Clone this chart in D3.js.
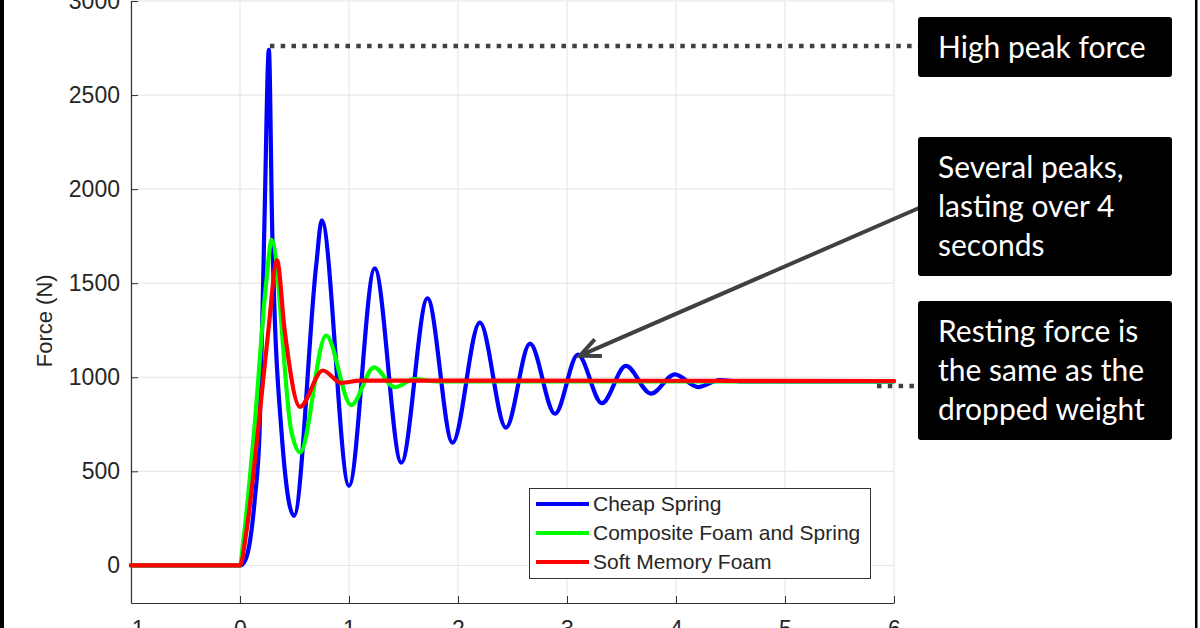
<!DOCTYPE html>
<html>
<head>
<meta charset="utf-8">
<script src="https://cdn.jsdelivr.net/npm/d3@7"></script>
<style>
  html, body { margin: 0; padding: 0; background: #fff; }
  svg { display: block; }
</style>
</head>
<body>
<svg id="chart" width="1200" height="628"></svg>
<script>
// ---- data ----
const xTicks = [-1, 0, 1, 2, 3, 4, 5, 6];
const yTicks = [0, 500, 1000, 1500, 2000, 2500, 3000];
const seriesNames = ["Cheap Spring", "Composite Foam and Spring", "Soft Memory Foam"];
const seriesColors = ["#0000ff", "#00ff00", "#ff0000"];

const cheapSpringT = [-1, 0, 0.05, 0.092, 0.137, 0.18, 0.224, 0.265, 0.295, 0.38, 0.495, 0.70, 0.75, 1.0, 1.236, 1.48, 1.72, 1.95, 2.2, 2.44, 2.66, 2.89, 3.1, 3.32, 3.54, 3.77, 3.99, 4.2, 4.4, 4.6, 6];
const cheapSpringF = [0, 0, 30, 130, 360, 716, 1818, 2740, 1800, 716, 263, 1600, 1834, 423, 1579, 546, 1419, 652, 1291, 732, 1179, 806, 1120, 862, 1060, 913, 1015, 948, 985, 978, 978];

const compositeT = [-1, 0, 0.03, 0.13, 0.24, 0.29, 0.47, 0.55, 0.79, 1.02, 1.23, 1.42, 1.6, 1.8, 6];
const compositeF = [0, 0, 130, 716, 1500, 1730, 716, 600, 1222, 852, 1053, 947, 990, 978, 978];

const memoryFoamT = [-1, 0, 0.06, 0.165, 0.26, 0.34, 0.41, 0.55, 0.76, 0.93, 1.1, 6];
const memoryFoamF = [0, 0, 184, 716, 1248, 1621, 1248, 843, 1036, 970, 982, 980];

const peakForce = 2740, peakTime = 0.265;
const restingForce = 980;
const arrowTarget = [3.1, 1120];

const annotations = [
  ["High peak force"],
  ["Several peaks,", "lasting over 4", "seconds"],
  ["Resting force is", "the same as the", "dropped weight"]
];

// ---- layout ----
const svg = d3.select("#chart");
const W = 1200, H = 628;
const x = d3.scaleLinear().domain([-1, 6]).range([131, 894]);
const y = d3.scaleLinear().domain([-200, 3000]).range([603, 1]);

// frame bars
svg.append("rect").attr("x", 0).attr("y", 0).attr("width", 4).attr("height", H).attr("fill", "#000");
svg.append("rect").attr("x", 1195).attr("y", 0).attr("width", 2.5).attr("height", H).attr("fill", "#000");

// grid
const grid = svg.append("g").attr("stroke", "#e3e3e3").attr("stroke-width", 1);
xTicks.forEach(t => grid.append("line").attr("x1", x(t)).attr("x2", x(t)).attr("y1", y(-200)).attr("y2", y(3000)));
yTicks.forEach(t => grid.append("line").attr("x1", x(-1)).attr("x2", x(6)).attr("y1", y(t)).attr("y2", y(t)));

// axes
const fontAx = "'Liberation Sans', Arial, Helvetica, sans-serif";
const yAxis = d3.axisLeft(y).tickValues(yTicks).tickSizeInner(-7).tickSizeOuter(0).tickPadding(11).tickFormat(d3.format("d"));
const gy = svg.append("g").attr("transform", `translate(${x(-1)},0)`).call(yAxis);
gy.select(".domain").attr("stroke", "#333").attr("stroke-width", 1.2);
gy.selectAll(".tick line").attr("stroke", "#333");
gy.selectAll(".tick text").attr("font-family", fontAx).attr("font-size", 23).attr("fill", "#262626");

const xAxis = d3.axisBottom(x).tickValues(xTicks).tickSizeInner(-7).tickSizeOuter(0).tickPadding(18).tickFormat(d3.format("d"));
const gx = svg.append("g").attr("transform", `translate(0,${y(-200)})`).call(xAxis);
gx.select(".domain").attr("stroke", "#333").attr("stroke-width", 1.2);
gx.selectAll(".tick line").attr("stroke", "#333");
gx.selectAll(".tick text").attr("font-family", fontAx).attr("font-size", 23).attr("fill", "#262626");

svg.append("text")
  .attr("transform", `translate(52,${y(1300)}) rotate(-90)`)
  .attr("text-anchor", "middle")
  .attr("font-family", fontAx).attr("font-size", 22).attr("fill", "#262626")
  .text("Force (N)");

// lines
const line = d3.line().x(d => x(d[0])).y(d => y(d[1])).curve(d3.curveMonotoneX);
const series = [
  d3.zip(cheapSpringT, cheapSpringF),
  d3.zip(compositeT, compositeF),
  d3.zip(memoryFoamT, memoryFoamF)
];
series.forEach((s, i) => {
  svg.append("path").datum(s).attr("d", line)
    .attr("fill", "none").attr("stroke", seriesColors[i])
    .attr("stroke-width", 4.2).attr("stroke-linejoin", "round").attr("stroke-linecap", "round");
});

// legend
const lg = svg.append("g");
lg.append("rect").attr("x", 529.5).attr("y", 488.5).attr("width", 341).attr("height", 90)
  .attr("fill", "#fff").attr("stroke", "#333").attr("stroke-width", 1);
seriesNames.forEach((n, i) => {
  const yy = 504 + i * 29;
  lg.append("line").attr("x1", 536).attr("x2", 589).attr("y1", yy).attr("y2", yy)
    .attr("stroke", seriesColors[i]).attr("stroke-width", 4.2);
  lg.append("text").attr("x", 593).attr("y", yy).attr("dy", "0.35em")
    .attr("font-family", fontAx).attr("font-size", 21).attr("fill", "#262626").text(n);
});

// annotation dotted lines
svg.append("line").attr("x1", x(peakTime) + 1).attr("x2", 918).attr("y1", y(peakForce) - 4).attr("y2", y(peakForce) - 4)
  .attr("stroke", "#404040").attr("stroke-width", 4.5).attr("stroke-dasharray", "4.5,6.3");
svg.append("line").attr("x1", 877).attr("x2", 918).attr("y1", y(restingForce) + 5).attr("y2", y(restingForce) + 5)
  .attr("stroke", "#404040").attr("stroke-width", 4.5).attr("stroke-dasharray", "4.5,6.3");

// arrow
const tip = [x(arrowTarget[0]) + 2, y(arrowTarget[1]) + 1];
const start = [919, 208];
svg.append("line").attr("x1", start[0]).attr("y1", start[1]).attr("x2", tip[0] + 3).attr("y2", tip[1] - 1.3)
  .attr("stroke", "#404040").attr("stroke-width", 4);
const ang = Math.atan2(start[1] - tip[1], start[0] - tip[0]);
const hl = 22, ha = 0.42;
const p1 = [tip[0] + hl * Math.cos(ang + ha), tip[1] + hl * Math.sin(ang + ha)];
const p2 = [tip[0] + hl * Math.cos(ang - ha), tip[1] + hl * Math.sin(ang - ha)];
svg.append("path").attr("d", `M${p1[0]},${p1[1]}L${tip[0]},${tip[1]}L${p2[0]},${p2[1]}`)
  .attr("fill", "none").attr("stroke", "#404040").attr("stroke-width", 4).attr("stroke-linejoin", "miter");

// annotation boxes
const boxes = [[17, 60], [137, 139], [301, 139]];
const fontAnn = "Lato, 'Open Sans', sans-serif";
annotations.forEach((lines, i) => {
  const [by, bh] = boxes[i];
  svg.append("rect").attr("x", 918).attr("y", by).attr("width", 254).attr("height", bh)
    .attr("rx", 3).attr("fill", "#000");
  lines.forEach((t, j) => {
    svg.append("text").attr("x", 938).attr("y", by + 41 + j * 39)
      .attr("font-family", fontAnn).attr("font-size", 30).attr("fill", "#fff").text(t);
  });
});
</script>
</body>
</html>
